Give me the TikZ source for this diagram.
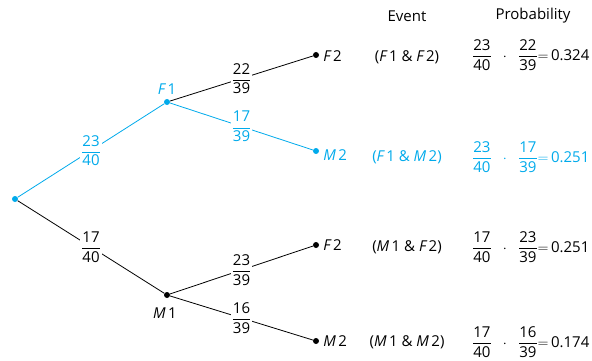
\documentclass[tikz,border=0pt]{standalone}
\usepackage{amsmath}
\usepackage{fontspec}
\setmainfont{Open Sans}
\usepackage{tikz}
\usetikzlibrary{positioning}
\definecolor{treeblue}{RGB}{0,170,235}
\newcommand{\fr}[2]{$\dfrac{\text{#1}}{\text{#2}}$}
\newcommand{\prodrow}[5]{$\dfrac{\text{#1}}{\text{#2}}\;\;\cdot\;\;\dfrac{\text{#3}}{\text{#4}}\mathord{=}\,\text{#5}$}

\begin{document}
\begin{tikzpicture}[
    x=1pt, y=-1pt,
    font=\fontsize{15}{18}\selectfont,
    dot/.style={circle, fill, inner sep=0pt, minimum size=6pt},
    branch/.style={line width=0.8pt},
    prob/.style={fill=white, inner sep=1pt},
    leafname/.style={right=3pt of #1, inner sep=1pt}
]
\useasboundingbox (0,0) rectangle (592,361);

% tree nodes
\node[dot, treeblue] (root) at (15,199) {};
\node[dot, treeblue, label={[treeblue, inner sep=0pt, label distance=4pt]above:{\itshape F}\,1}] (f1) at (167,102) {};
\node[dot, label={[xshift=-2pt, inner sep=0pt, label distance=9pt]below:{\itshape M}\,1}] (m1) at (167,295) {};
\node[dot] (ff) at (316,55) {};
\node[dot, treeblue] (fm) at (316,151) {};
\node[dot] (mf) at (316,245) {};
\node[dot] (mm) at (316,341) {};

\node[leafname=ff, yshift=-1pt] (ffname) {{\itshape F}\,2};
\node[leafname=fm, text=treeblue, yshift=-4pt] (fmname) {{\itshape M}\,2};
\node[leafname=mf] (mfname) {{\itshape F}\,2};
\node[leafname=mm] (mmname) {{\itshape M}\,2};

% branches
\draw[branch, treeblue] (root) -- node[prob, text=treeblue] {\fr{23}{40}} (f1);
\draw[branch] (root) -- node[prob] {\fr{17}{40}} (m1);
\draw[branch] (f1) -- node[prob] {\fr{22}{39}} (ff);
\draw[branch, treeblue] (f1) -- node[prob, text=treeblue] {\fr{17}{39}} (fm);
\draw[branch] (m1) -- node[prob] {\fr{23}{39}} (mf);
\draw[branch] (m1) -- node[prob] {\fr{16}{39}} (mm);

% table
\node (eventhead) at (407,16) {Event};
\node (probhead) at (533,16) {Probability};

\node (ffevent) at (407,57) {({\itshape F}\,1 \& {\itshape F}\,2)};
\node[text=treeblue] (fmevent) at (407,157) {({\itshape F}\,1 \& {\itshape M}\,2)};
\node (mfevent) at (407,247) {({\itshape M}\,1 \& {\itshape F}\,2)};
\node (mmevent) at (407,342) {({\itshape M}\,1 \& {\itshape M}\,2)};

\node[anchor=west, inner sep=0pt] (ffprob) at (472,55) {\prodrow{23}{40}{22}{39}{0.324}};
\node[anchor=west, inner sep=0pt, text=treeblue] (fmprob) at (472,157) {\prodrow{23}{40}{17}{39}{0.251}};
\node[anchor=west, inner sep=0pt] (mfprob) at (472,247) {\prodrow{17}{40}{23}{39}{0.251}};
\node[anchor=west, inner sep=0pt] (mmprob) at (472,342) {\prodrow{17}{40}{16}{39}{0.174}};

\end{tikzpicture}
\end{document}
